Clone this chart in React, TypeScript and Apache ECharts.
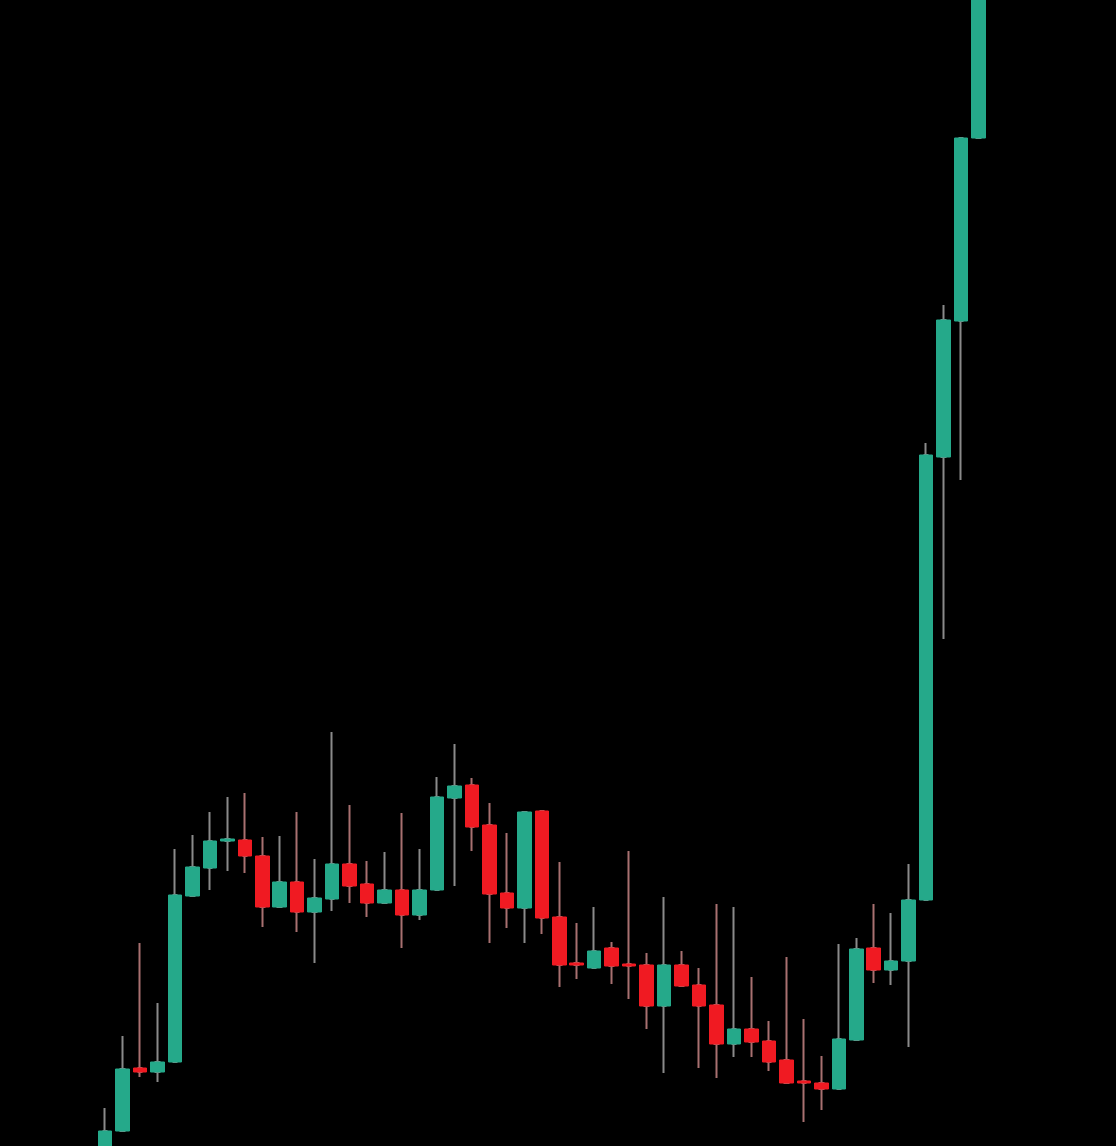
import React, { useEffect, useRef } from "react";
import * as echarts from "echarts";

const categories: string[] = [
  "1","2","3","4","5","6","7","8","9","10",
  "11","12","13","14","15","16","17","18","19","20",
  "21","22","23","24","25","26","27","28","29","30",
  "31","32","33","34","35","36","37","38","39","40",
  "41","42","43","44","45","46","47","48","49","50","51",
];

const opens: number[] = [
  -6, 15, 78, 74, 84, 250, 278, 305, 306, 290,
  239, 264, 234, 247, 282, 262, 243, 256, 231, 256,
  348, 361, 321, 253, 238, 335, 229, 183, 178, 198,
  182, 181, 140, 181, 161, 141, 102, 117, 105, 86,
  65, 63, 57, 106, 198, 176, 185, 246, 689, 825, 1008,
];
const closes: number[] = [
  15, 77, 74, 84, 251, 279, 305, 307, 290, 239,
  264, 234, 248, 282, 260, 243, 256, 231, 256, 349,
  360, 319, 252, 238, 334, 228, 181, 181, 195, 180,
  180, 140, 181, 160, 140, 102, 117, 104, 84, 63,
  63, 57, 107, 197, 176, 185, 246, 691, 826, 1008, 1170,
];
const lows: number[] = [
  -6, 15, 69, 64, 84, 250, 256, 275, 273, 219,
  239, 214, 183, 235, 243, 229, 243, 198, 226, 256,
  260, 295, 203, 218, 203, 212, 159, 167, 178, 162,
  147, 117, 73, 160, 78, 68, 89, 89, 75, 63,
  24, 36, 57, 106, 163, 161, 99, 246, 507, 666, 1008,
];
const highs: number[] = [
  38, 110, 203, 143, 297, 311, 334, 349, 353, 309,
  310, 334, 287, 414, 341, 285, 294, 333, 297, 369,
  402, 368, 343, 313, 334, 335, 284, 223, 239, 204,
  295, 193, 249, 195, 178, 242, 239, 169, 125, 189,
  127, 90, 202, 208, 242, 233, 282, 703, 841, 1008, 1170,
];

const UP = "#25a98a";
const DOWN = "#f01a22";

export default function App() {
  const ref = useRef<HTMLDivElement>(null);
  useEffect(() => {
    if (!ref.current) return;
    const chart = echarts.init(ref.current, undefined, { renderer: "svg" });
    const wickData = categories.map((_, i) => [opens[i], closes[i], lows[i], highs[i]]);
    const bodyData = categories.map((_, i) => [
      opens[i],
      closes[i],
      Math.min(opens[i], closes[i]),
      Math.max(opens[i], closes[i]),
    ]);
    chart.setOption({
      animation: false,
      backgroundColor: "#000000",
      grid: { left: 96.3, right: 128.7, top: 0, bottom: 0 },
      xAxis: {
        type: "category",
        data: categories,
        show: false,
        boundaryGap: true,
      },
      yAxis: {
        type: "value",
        min: 0,
        max: 1146,
        show: false,
        splitLine: { show: false },
      },
      series: [
        {
          type: "candlestick",
          name: "wicks",
          data: wickData,
          barWidth: 4,
          z: 2,
          itemStyle: {
            color: "transparent",
            color0: "transparent",
            borderColor: "#8a8a8a",
            borderColor0: "#a87070",
            borderWidth: 2,
          },
        },
        {
          type: "candlestick",
          name: "bodies",
          data: bodyData,
          barWidth: 14,
          z: 3,
          itemStyle: {
            color: UP,
            color0: DOWN,
            borderColor: UP,
            borderColor0: DOWN,
            borderWidth: 1,
          },
        },
      ],
    });
    return () => chart.dispose();
  }, []);
  return (
    <div
      ref={ref}
      style={{ position: "fixed", left: 0, top: 0, width: 1116, height: 1146, background: "#000" }}
    />
  );
}
